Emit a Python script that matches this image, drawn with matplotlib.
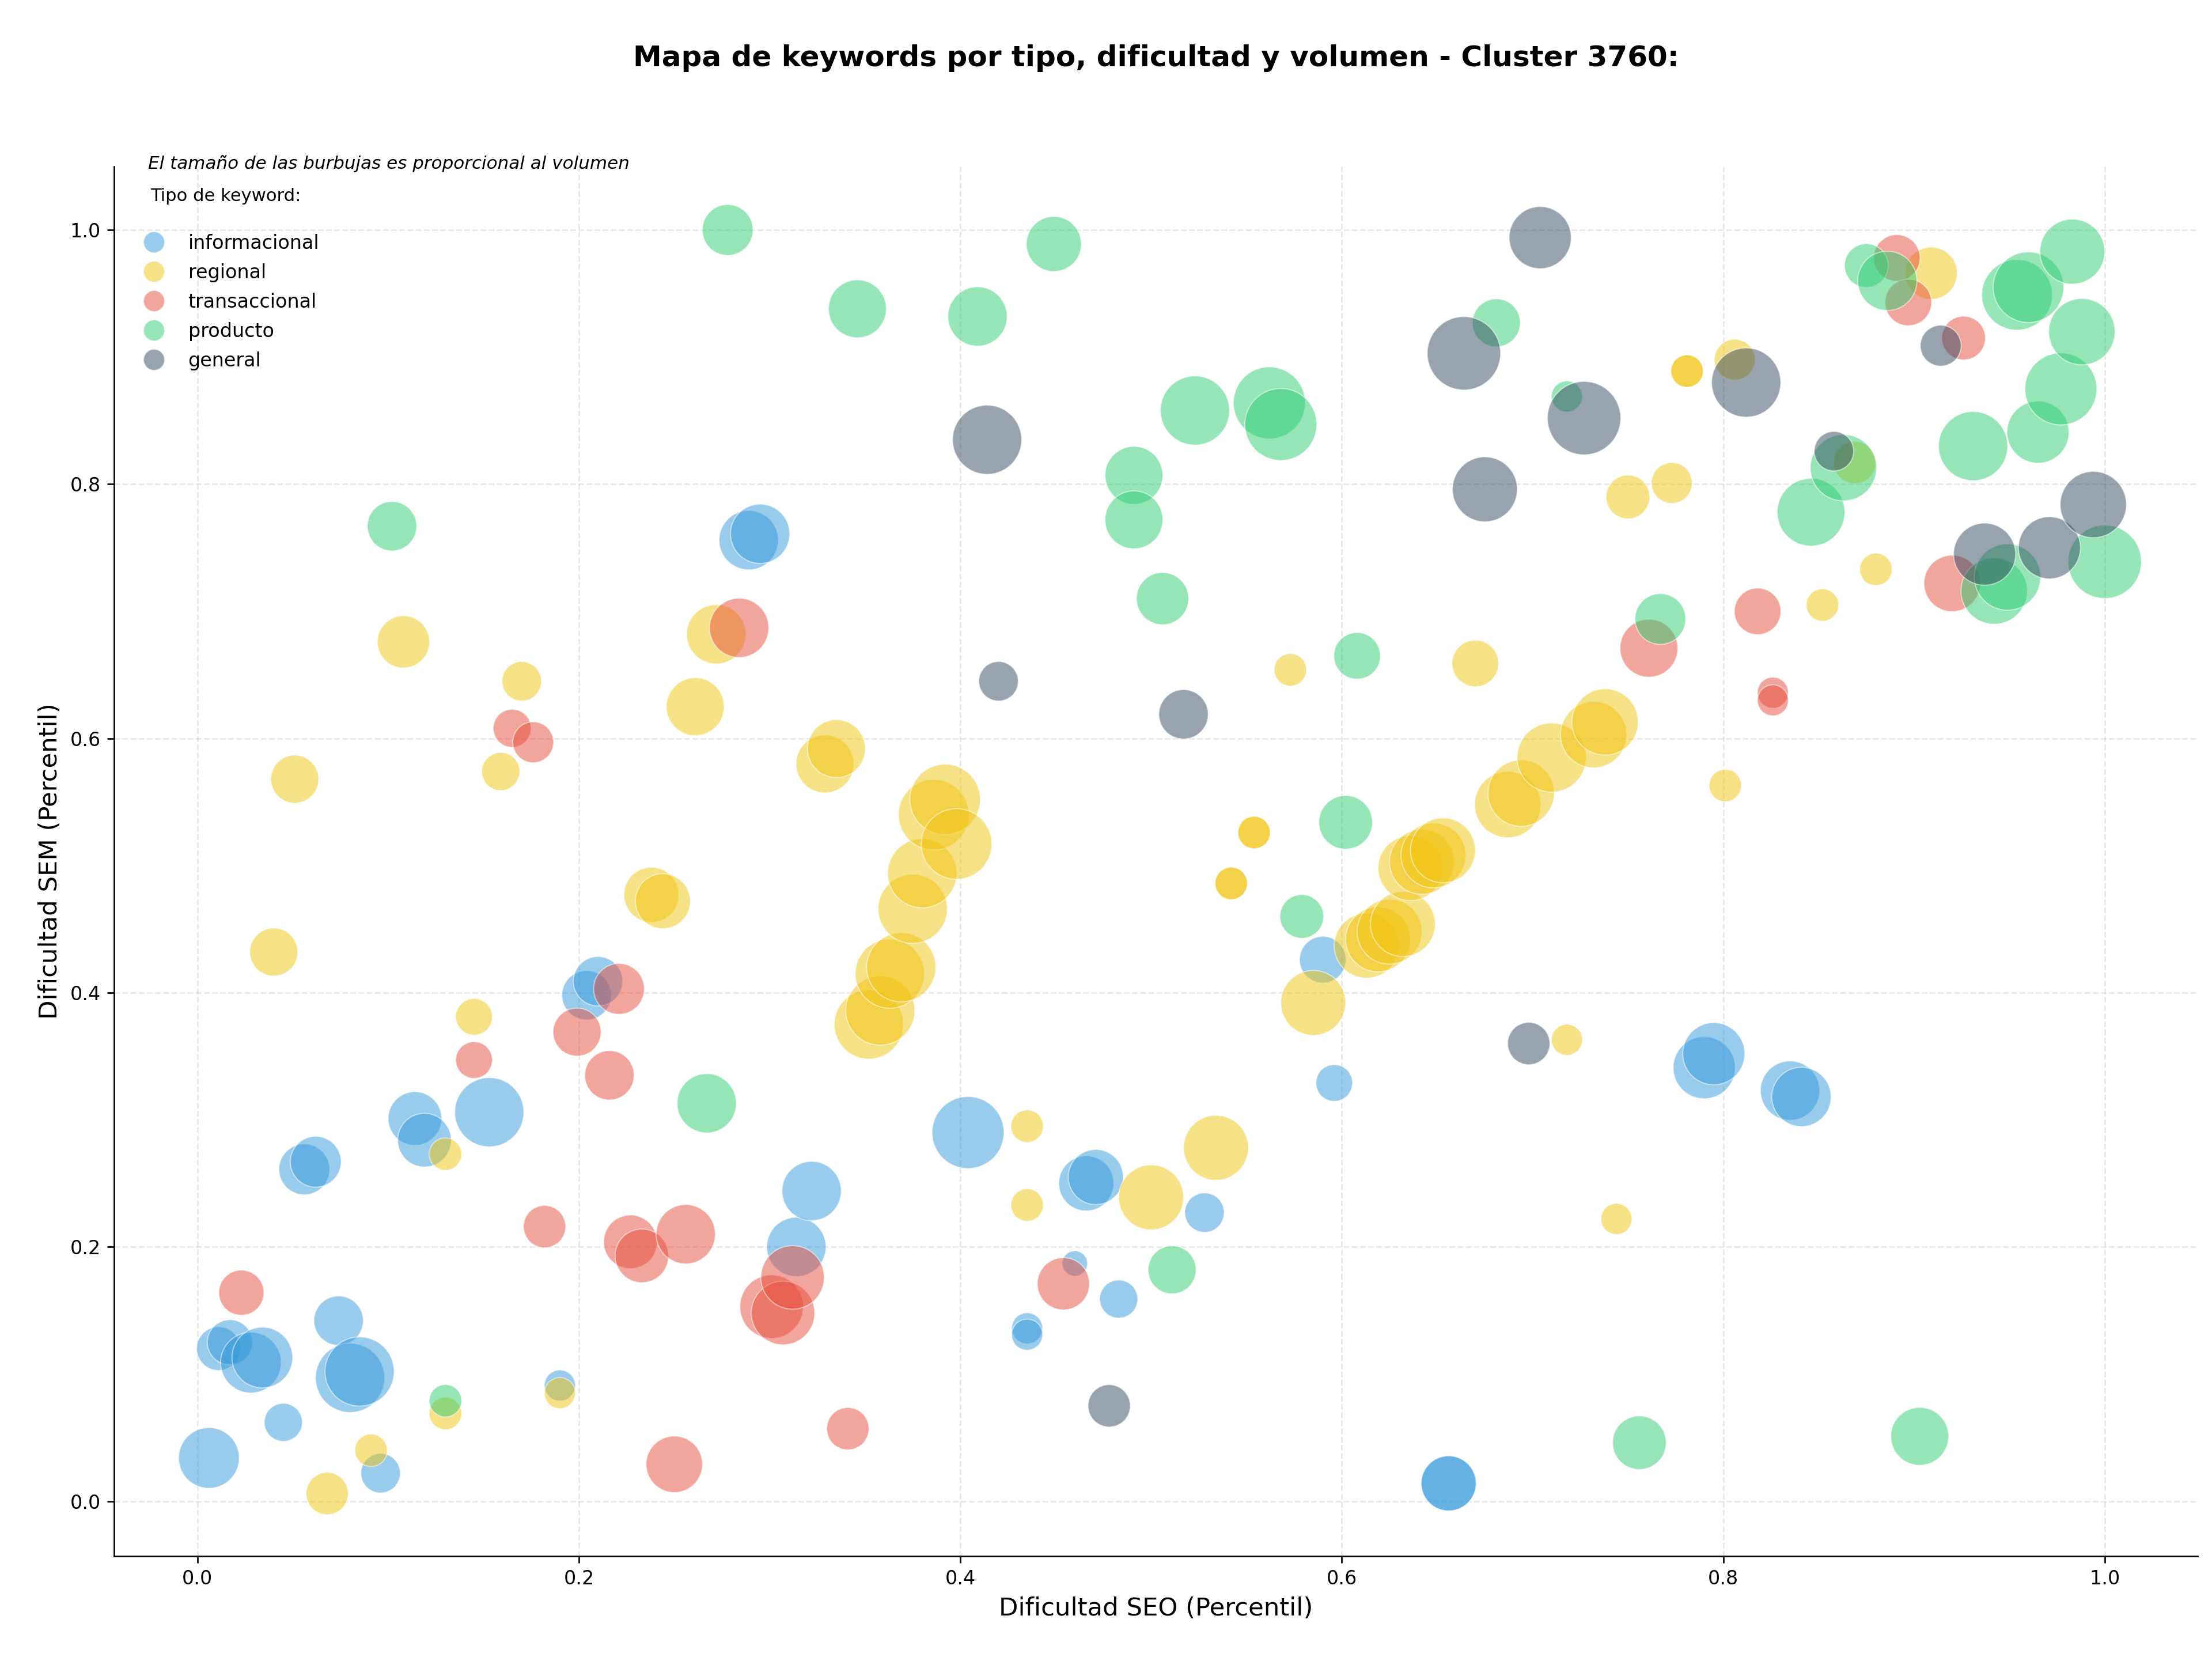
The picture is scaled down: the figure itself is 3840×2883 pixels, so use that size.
import matplotlib
matplotlib.use("Agg")
import matplotlib.pyplot as plt
from matplotlib.lines import Line2D

# ---------------- data ----------------
categorias = ["informacional", "regional", "transaccional", "producto", "general"]
colores = ["#3498db", "#f1c40f", "#e74c3c", "#2ecc71", "#34495e"]

x_info = [0.006, 0.011, 0.017, 0.028, 0.034, 0.045, 0.056, 0.062, 0.074, 0.080, 0.085, 0.096,
          0.114, 0.119, 0.153, 0.190, 0.204, 0.210, 0.289, 0.295, 0.314, 0.322, 0.404, 0.435,
          0.435, 0.460, 0.466, 0.471, 0.483, 0.528, 0.590, 0.596, 0.656, 0.656, 0.790, 0.795,
          0.835, 0.841]
y_info = [0.034, 0.120, 0.125, 0.109, 0.113, 0.062, 0.261, 0.267, 0.142, 0.097, 0.102, 0.022,
          0.301, 0.284, 0.306, 0.091, 0.398, 0.409, 0.756, 0.761, 0.200, 0.244, 0.290, 0.136,
          0.131, 0.187, 0.250, 0.255, 0.159, 0.227, 0.426, 0.329, 0.014, 0.014, 0.341, 0.352,
          0.323, 0.318]
v_info = [43, 31, 32, 43, 43, 27, 36, 36, 35, 49, 49, 28,
          38, 38, 49, 22, 35, 35, 42, 42, 42, 42, 51, 22,
          22, 18, 39, 39, 27, 28, 33, 26, 39, 39, 44, 44,
          42, 42]

x_reg = [0.068, 0.091, 0.130, 0.190, 0.130, 0.040, 0.051, 0.108, 0.145, 0.159, 0.170, 0.238,
         0.244, 0.261, 0.272, 0.329, 0.335, 0.352, 0.358, 0.363, 0.369, 0.375, 0.380, 0.386,
         0.392, 0.398, 0.435, 0.435, 0.500, 0.534, 0.542, 0.542, 0.554, 0.554, 0.573, 0.585,
         0.613, 0.619, 0.625, 0.632, 0.636, 0.642, 0.648, 0.653, 0.670, 0.687, 0.694, 0.710,
         0.732, 0.738, 0.718, 0.744, 0.750, 0.773, 0.781, 0.781, 0.801, 0.806, 0.852, 0.880,
         0.909, 0.869]
y_reg = [0.006, 0.040, 0.069, 0.085, 0.273, 0.432, 0.568, 0.676, 0.381, 0.574, 0.645, 0.477,
         0.472, 0.625, 0.682, 0.580, 0.592, 0.375, 0.386, 0.415, 0.420, 0.466, 0.494, 0.540,
         0.552, 0.517, 0.295, 0.233, 0.239, 0.278, 0.486, 0.486, 0.526, 0.526, 0.654, 0.392,
         0.437, 0.442, 0.448, 0.454, 0.498, 0.503, 0.508, 0.512, 0.659, 0.548, 0.557, 0.585,
         0.603, 0.613, 0.363, 0.222, 0.790, 0.801, 0.889, 0.889, 0.563, 0.898, 0.705, 0.733,
         0.966, 0.817]
v_reg = [30, 23, 23, 22, 23, 34, 34, 37, 26, 27, 28, 39,
         39, 41, 42, 41, 41, 49, 49, 49, 49, 49, 49, 50,
         50, 50, 23, 23, 46, 46, 23, 23, 23, 23, 23, 46,
         46, 46, 46, 46, 46, 46, 46, 46, 33, 47, 47, 49,
         47, 47, 22, 22, 31, 29, 23, 23, 23, 29, 23, 23,
         37, 30]

x_tra = [0.023, 0.145, 0.165, 0.176, 0.182, 0.199, 0.216, 0.221, 0.227, 0.233, 0.256, 0.250,
         0.284, 0.301, 0.307, 0.312, 0.341, 0.454, 0.761, 0.818, 0.826, 0.826, 0.891, 0.897,
         0.926, 0.920]
y_tra = [0.164, 0.347, 0.608, 0.597, 0.216, 0.369, 0.335, 0.403, 0.204, 0.193, 0.210, 0.029,
         0.687, 0.153, 0.148, 0.176, 0.057, 0.171, 0.671, 0.700, 0.636, 0.630, 0.978, 0.943,
         0.915, 0.722]
v_tra = [32, 26, 27, 29, 30, 34, 35, 36, 38, 38, 42, 40,
         42, 45, 45, 45, 30, 37, 41, 33, 22, 22, 33, 33,
         31, 40]

x_pro = [0.130, 0.102, 0.267, 0.278, 0.346, 0.409, 0.449, 0.491, 0.491, 0.506, 0.511, 0.523,
         0.562, 0.568, 0.579, 0.602, 0.608, 0.681, 0.718, 0.756, 0.767, 0.846, 0.863, 0.875,
         0.886, 0.903, 0.931, 0.942, 0.949, 0.954, 0.960, 0.965, 0.977, 0.983, 0.988, 1.000]
y_pro = [0.079, 0.767, 0.313, 1.000, 0.938, 0.932, 0.989, 0.807, 0.772, 0.710, 0.182, 0.858,
         0.864, 0.847, 0.460, 0.534, 0.665, 0.927, 0.869, 0.046, 0.694, 0.778, 0.813, 0.972,
         0.960, 0.051, 0.830, 0.716, 0.727, 0.949, 0.955, 0.841, 0.875, 0.983, 0.920, 0.739]
v_pro = [23, 35, 42, 36, 41, 42, 39, 41, 41, 37, 34, 49,
         51, 51, 31, 38, 33, 34, 22, 38, 36, 48, 47, 31,
         42, 41, 49, 47, 47, 50, 50, 44, 51, 46, 47, 52]

x_gen = [0.414, 0.420, 0.478, 0.517, 0.664, 0.675, 0.698, 0.704, 0.727, 0.812, 0.858, 0.914,
         0.937, 0.971, 0.994]
y_gen = [0.835, 0.645, 0.075, 0.619, 0.903, 0.796, 0.360, 0.994, 0.852, 0.880, 0.826, 0.909,
         0.745, 0.750, 0.784]
v_gen = [49, 28, 30, 35, 52, 46, 30, 44, 52, 49, 28, 29,
         44, 44, 47]

series = [(x_info, y_info, v_info), (x_reg, y_reg, v_reg), (x_tra, y_tra, v_tra),
          (x_pro, y_pro, v_pro), (x_gen, y_gen, v_gen)]

titulo = "Mapa de keywords por tipo, dificultad y volumen - Cluster 3760:"
nota = "El tamaño de las burbujas es proporcional al volumen"

# ---------------- figure ----------------
fig = plt.figure(figsize=(16, 12.0125), dpi=240)
ax = fig.add_axes([0.0516, 0.0631, 0.9419, 0.8367])

for (xs, ys, vs), col, lab in zip(series, colores, categorias):
    sizes = [(v * 0.7347) ** 2 for v in vs]
    ax.scatter(xs, ys, s=sizes, c=col, alpha=0.5, edgecolors="white", linewidths=0.6,
               label=lab, zorder=3)

ax.set_xlim(-0.0437, 1.0487)
ax.set_ylim(-0.0433, 1.05)
ax.set_xticks([0.0, 0.2, 0.4, 0.6, 0.8, 1.0])
ax.set_yticks([0.0, 0.2, 0.4, 0.6, 0.8, 1.0])
ax.tick_params(labelsize=10)
ax.grid(True, linestyle="--", color="#b0b0b0", alpha=0.3, linewidth=0.8, zorder=0)
ax.spines["top"].set_visible(False)
ax.spines["right"].set_visible(False)

ax.set_xlabel("Dificultad SEO (Percentil)", fontsize=13)
ax.set_ylabel("Dificultad SEM (Percentil)", fontsize=13)

fig.text(0.5227, 0.965, titulo, ha="center", va="center", fontsize=15, fontweight="bold")

ax.text(0.0162, 0.996, nota, transform=ax.transAxes, ha="left", va="bottom",
        fontsize=9.3, style="italic")
ax.text(0.0174, 0.9785, "Tipo de keyword:", transform=ax.transAxes, ha="left", va="center",
        fontsize=9.2)

handles = [Line2D([], [], marker="o", linestyle="none", markersize=11, markerfacecolor=c,
                  markeredgecolor="white", markeredgewidth=0.6, alpha=0.5) for c in colores]
ax.legend(handles, categorias, loc="upper left", bbox_to_anchor=(0.0014, 0.964),
          frameon=False, fontsize=10, labelspacing=0.54)

fig.savefig("out.png", dpi=240)
